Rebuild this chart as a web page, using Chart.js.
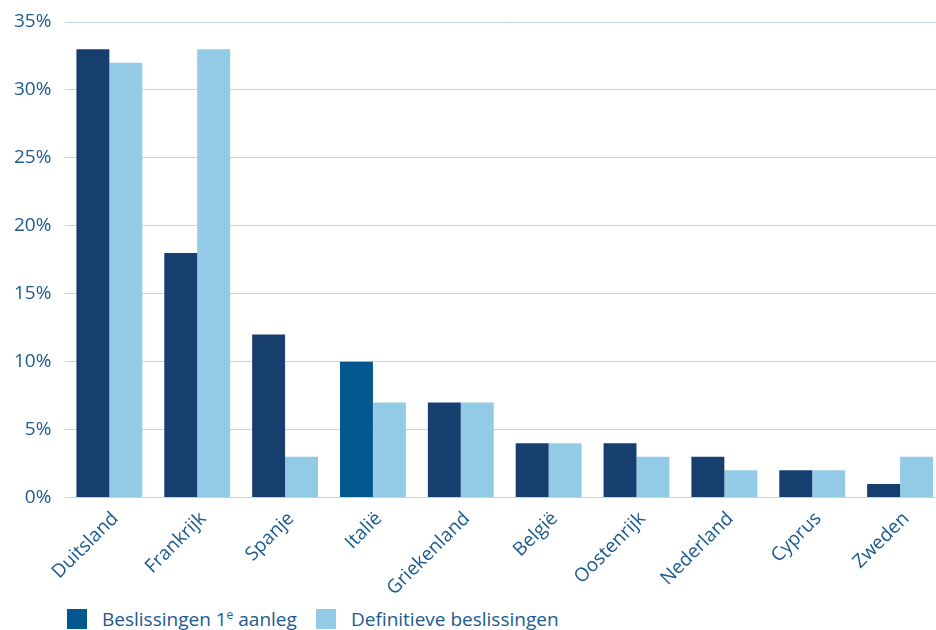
<!DOCTYPE html>
<html lang="nl">
<head>
<meta charset="utf-8">
<title>Beslissingen per land</title>
<script src="https://cdn.jsdelivr.net/npm/chart.js@4"></script>
<style>
    html, body { margin: 0; padding: 0; background: #fff; overflow: hidden; }
    #wrap { position: relative; width: 944px; height: 630px; }
    #chartBox { position: absolute; left: 0; top: 0; width: 944px; height: 602px; }
    #legend { position: absolute; left: 67px; top: 606px; font-family: "Open Sans", sans-serif; font-size: 19px; color: #1b5a8e; display: flex; align-items: center; }
    .item { display: flex; align-items: center; }
    .swatch { width: 20px; height: 20px; margin-right: 15px; }
    #item2 { position: absolute; left: 249px; top: 0; white-space: nowrap; }
    sup { font-size: 12px; vertical-align: 7px; line-height: 0; }
</style>
</head>
<body>
<div id="wrap">
    <div id="chartBox"><canvas id="landenChart"></canvas></div>
    <div id="legend">
        <div class="item"><span class="swatch" style="background:#02578f"></span><span>Beslissingen 1<sup>e</sup> aanleg</span></div>
        <div class="item" id="item2"><span class="swatch" style="background:#93cbe6"></span><span>Definitieve beslissingen</span></div>
    </div>
</div>
<script>
const landen = ['Duitsland', 'Frankrijk', 'Spanje', 'Italië', 'Griekenland', 'België', 'Oostenrijk', 'Nederland', 'Cyprus', 'Zweden'];
const eersteAanleg = [33, 18, 12, 10, 7, 4, 4, 3, 2, 1];
const definitief = [32, 33, 3, 7, 7, 4, 3, 2, 2, 3];
const yTicks = [0, 5, 10, 15, 20, 25, 30, 35];

document.addEventListener('DOMContentLoaded', function() {
    initLandenChart();
});

function initLandenChart() {
    const ctx = document.getElementById('landenChart');
    const tekstKleur = '#1b5a8e';
    const lettertype = { family: '"Open Sans", sans-serif', size: 19 };

    // Italië is in het origineel iets lichter blauw
    const donkerKleuren = landen.map(l => l === 'Italië' ? '#02578f' : '#163f6f');

    new Chart(ctx, {
        type: 'bar',
        data: {
            labels: landen,
            datasets: [{
                label: 'Beslissingen 1e aanleg',
                data: eersteAanleg,
                backgroundColor: donkerKleuren,
                categoryPercentage: 0.75,
                barPercentage: 1.0
            }, {
                label: 'Definitieve beslissingen',
                data: definitief,
                backgroundColor: '#93cbe6',
                categoryPercentage: 0.75,
                barPercentage: 1.0
            }]
        },
        options: {
            responsive: true,
            maintainAspectRatio: false,
            animation: false,
            layout: { padding: { top: 0, left: 0, right: 0, bottom: 0 } },
            plugins: {
                legend: { display: false },
                tooltip: { enabled: false }
            },
            scales: {
                x: {
                    grid: { display: false },
                    border: { display: false },
                    ticks: {
                        color: tekstKleur,
                        font: lettertype,
                        minRotation: 45,
                        maxRotation: 45,
                        padding: 2,
                        labelOffset: 6
                    }
                },
                y: {
                    min: 0,
                    max: 35,
                    afterBuildTicks: function(axis) {
                        axis.ticks = yTicks.map(v => ({ value: v }));
                    },
                    grid: { color: '#b9d8ea', lineWidth: 1, drawTicks: false },
                    border: { display: false },
                    ticks: {
                        color: tekstKleur,
                        font: { family: '"Open Sans", sans-serif', size: 19, lineHeight: 0.85 },
                        padding: 14,
                        callback: v => v + '%'
                    }
                }
            }
        }
    });
}
</script>
</body>
</html>
